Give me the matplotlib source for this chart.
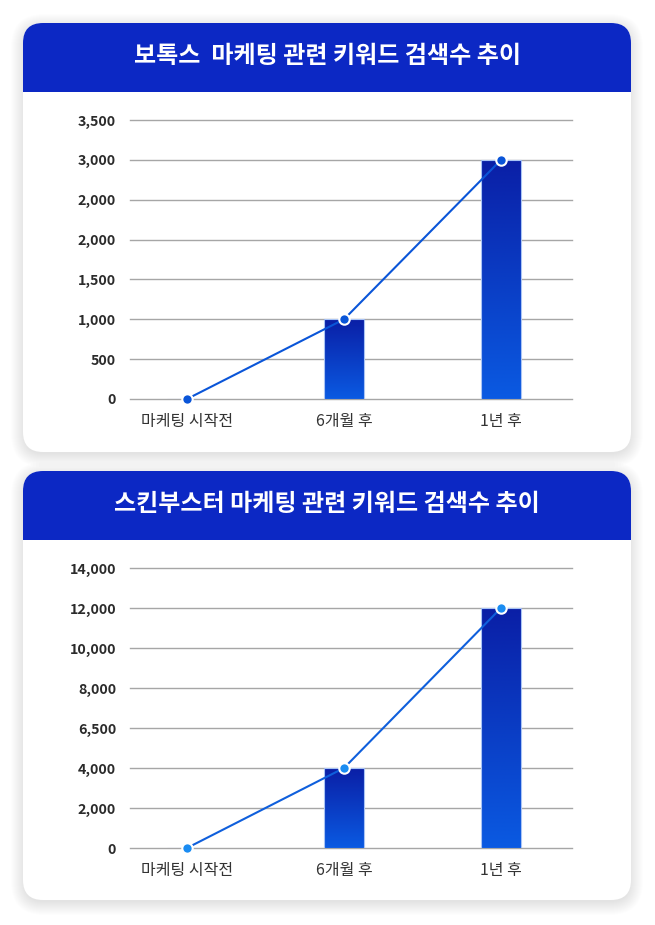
import matplotlib.pyplot as plt
import numpy as np
from matplotlib.patches import FancyBboxPatch, Rectangle
from matplotlib.colors import LinearSegmentedColormap

plt.rcParams['font.family'] = ['Noto Sans CJK KR', 'DejaVu Sans']

categories = ["마케팅 시작전", "6개월 후", "1년 후"]

botox_title = "보톡스  마케팅 관련 키워드 검색수 추이"
botox_values = [0, 1000, 3000]
botox_ticks = [0, 500, 1000, 1500, 2000, 2500, 3000, 3500]
botox_tick_labels = ["0", "500", "1,000", "1,500", "2,000", "2,000", "3,000", "3,500"]

skin_title = "스킨부스터 마케팅 관련 키워드 검색수 추이"
skin_values = [0, 4000, 12000]
skin_ticks = [0, 2000, 4000, 6000, 8000, 10000, 12000, 14000]
skin_tick_labels = ["0", "2,000", "4,000", "6,500", "8,000", "10,000", "12,000", "14,000"]

W, H = 655, 925
fig = plt.figure(figsize=(W / 100, H / 100), dpi=100)
fig.patch.set_facecolor("white")

bg = fig.add_axes([0, 0, 1, 1])
bg.set_xlim(0, W)
bg.set_ylim(H, 0)
bg.axis("off")

bar_cmap = LinearSegmentedColormap.from_list("bar", ["#0a1fa6", "#0a5ae2"])


def draw_card(top, bottom, title):
    left, right, r = 23, 631, 20
    # soft shadow
    for i in range(14):
        s = FancyBboxPatch((left - i + 1, top - i + 4), right - left + 2 * i - 2,
                           bottom - top + 2 * i - 2,
                           boxstyle="round,pad=0,rounding_size=%d" % (r + i),
                           facecolor="#000000", edgecolor="none", alpha=0.007)
        bg.add_patch(s)
    card = FancyBboxPatch((left, top), right - left, bottom - top,
                          boxstyle="round,pad=0,rounding_size=%d" % r,
                          facecolor="white", edgecolor="none")
    bg.add_patch(card)
    header = Rectangle((left, top), right - left, 69, facecolor="#0c28c4",
                       edgecolor="none")
    bg.add_patch(header)
    header.set_clip_path(card)
    bg.text((left + right) / 2, top + 33, title, color="white", fontsize=17.3,
            fontweight="bold", ha="center", va="center")


def draw_chart(y_top, y_bottom, values, ticks, tick_labels, line_color, marker_color):
    ax = fig.add_axes([130 / W, 1 - y_bottom / H, (572 - 130) / W, (y_bottom - y_top) / H])
    x = np.arange(len(categories))
    bars = ax.bar(x, values, width=0.255, color="none", edgecolor="#a9c4f5",
                  linewidth=0.8, zorder=3)
    grad = np.linspace(0, 1, 256).reshape(-1, 1)
    for b in bars:
        if b.get_height() <= 0:
            continue
        im = ax.imshow(grad, cmap=bar_cmap, aspect="auto", zorder=2.5,
                       extent=[b.get_x(), b.get_x() + b.get_width(), 0, b.get_height()])
        im.set_clip_path(b)
    ax.plot(x, values, color=line_color, linewidth=1.5, marker="o",
            markersize=7.5, markerfacecolor=marker_color, markeredgecolor="white",
            markeredgewidth=1.5, zorder=4, clip_on=False)
    ax.set_xlim(-0.363, 2.452)
    ax.set_ylim(0, ticks[-1])
    ax.set_yticks(ticks)
    ax.set_yticklabels(tick_labels)
    ax.set_xticks(x)
    ax.set_xticklabels(categories)
    ax.grid(axis="y", color="#a6a6a6", linewidth=1, zorder=0)
    for gl in ax.get_ygridlines():
        gl.set_clip_on(False)
    ax.set_axisbelow(True)
    for sp in ax.spines.values():
        sp.set_visible(False)
    ax.tick_params(axis="y", length=0, pad=10, labelsize=10.3, labelcolor="#2b2b2b")
    ax.tick_params(axis="x", length=0, pad=10, labelsize=11.5, labelcolor="#333333")
    for lab in ax.get_yticklabels():
        lab.set_fontweight("bold")
    ax.set_facecolor("none")


draw_card(23, 452, botox_title)
draw_card(471, 900, skin_title)

draw_chart(120, 399, botox_values, botox_ticks, botox_tick_labels, "#0a55d8", "#0a55d8")
draw_chart(568, 848, skin_values, skin_ticks, skin_tick_labels, "#0f5fdc", "#1a8cf2")

fig.savefig("out.png", dpi=100)
